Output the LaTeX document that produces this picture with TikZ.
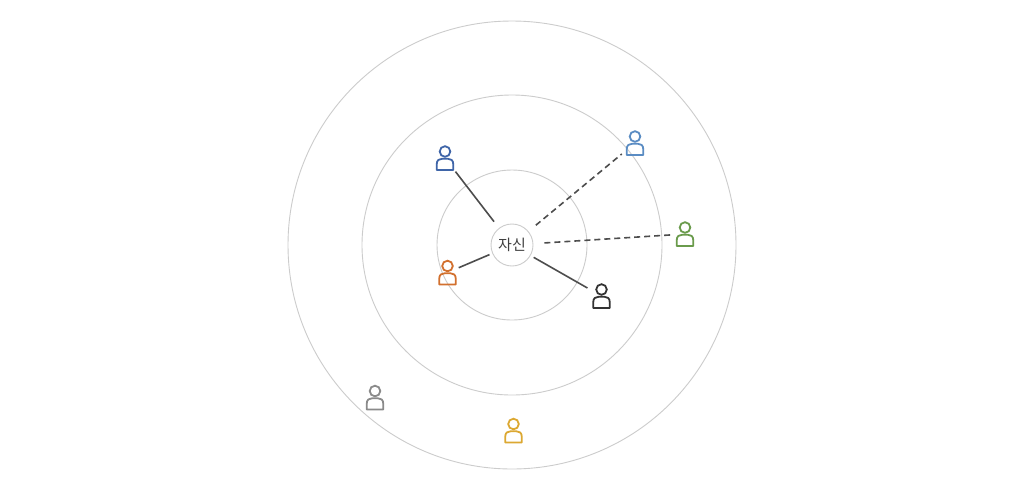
\documentclass[tikz,border=0pt]{standalone}
\usepackage{fontspec}
\newfontfamily\krfont{Noto Sans CJK KR}
\definecolor{ringgray}{HTML}{CCCCCC}
\definecolor{linkgray}{HTML}{4D4D4D}
\definecolor{pblue}{HTML}{3F65A8}
\definecolor{plightblue}{HTML}{5A8CC3}
\definecolor{pgreen}{HTML}{6A9B4C}
\definecolor{pblack}{HTML}{333333}
\definecolor{porange}{HTML}{D2702E}
\definecolor{pgray}{HTML}{8A8A8A}
\definecolor{pgold}{HTML}{DCA832}
\tikzset{
  ring/.style={draw=ringgray, line width=0.9pt},
  selfnode/.style={circle, draw=ringgray, line width=0.9pt, minimum size=42pt, inner sep=0pt, font=\krfont\fontsize{15}{17}\selectfont, text=black!75},
  person/.style={circle, minimum size=20pt, inner sep=0pt},
  solidlink/.style={draw=linkgray, line width=1.6pt},
  dashlink/.style={draw=linkgray, line width=1.6pt, dash pattern=on 6pt off 4pt},
  pics/personicon/.style={code={
    \draw[line width=1.8pt, draw=#1] (0,-6.5) circle (5.3);
    \draw[line width=1.8pt, draw=#1, line join=round]
      (-8.3,12) -- (-8.3,6.5) .. controls (-8.3,2) and (-5.8,0.8) .. (-3,0.8)
      -- (3,0.8) .. controls (5.8,0.8) and (8.3,2) .. (8.3,6.5) -- (8.3,12) -- cycle;
  }}
}
\begin{document}
\begin{tikzpicture}[x=1pt, y=-1pt]
\useasboundingbox (0,0) rectangle (1024,491);
\fill[white] (0,0) rectangle (1024,491);
% rings
\draw[ring] (512,245) circle (75);
\draw[ring] (512,245) circle (150);
\draw[ring] (512,245) circle (224);
% center
\node[selfnode] (self) at (512,245) {자신};
% people
\node[person] (blue) at (445,158) {};
\node[person] (lightblue) at (635,143) {};
\node[person] (green) at (685,234) {};
\node[person] (black) at (601.5,296) {};
\node[person] (orange) at (447.5,272.5) {};
\node[person] (gray) at (375,397.5) {};
\node[person] (gold) at (513.5,430.5) {};
\pic at (blue) {personicon=pblue};
\pic at (lightblue) {personicon=plightblue};
\pic at (green) {personicon=pgreen};
\pic at (black) {personicon=pblack};
\pic at (orange) {personicon=porange};
\pic at (gray) {personicon=pgray};
\pic at (gold) {personicon=pgold};
% links
\draw[solidlink, shorten <=8pt, shorten >=7pt] (self) -- (blue);
\draw[dashlink, shorten <=9.5pt, shorten >=7pt] (self) -- (lightblue);
\draw[dashlink, shorten <=11pt, shorten >=2.5pt] (self) -- (green);
\draw[solidlink, shorten <=3.5pt, shorten >=6pt] (self) -- (black);
\draw[solidlink, shorten <=3pt, shorten >=2pt] (self) -- (orange);
\end{tikzpicture}
\end{document}
